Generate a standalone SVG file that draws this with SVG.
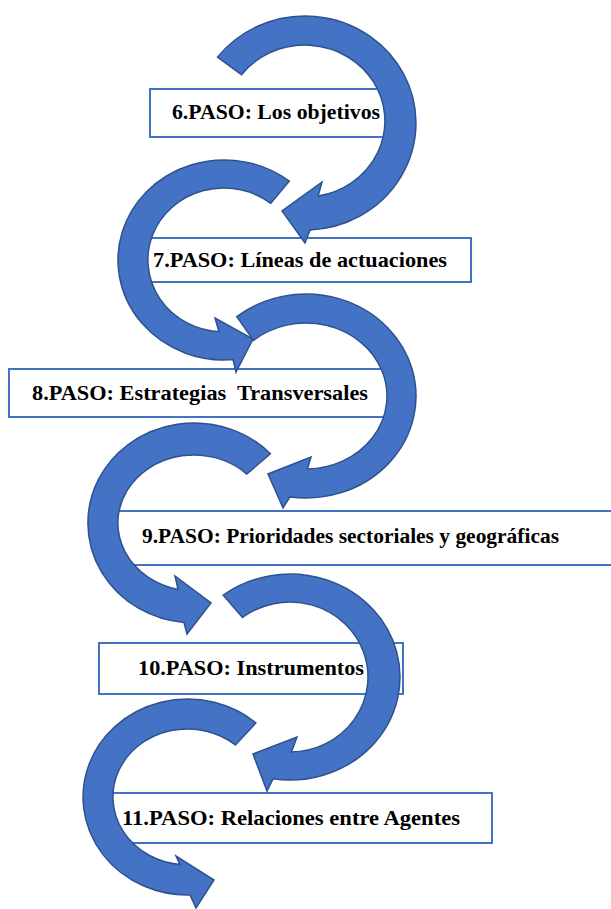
<svg xmlns="http://www.w3.org/2000/svg" width="611" height="909" viewBox="0 0 611 909">
<style>
.box{fill:#ffffff;stroke:#4472C4;stroke-width:2}
.lbl{font-family:"Liberation Serif","Times New Roman",serif;font-weight:bold;font-size:22px;fill:#000000;white-space:pre}
.arr{fill:#4472C4;stroke:#2F528F;stroke-width:1.5;stroke-linejoin:miter}
</style>
<rect x="0" y="0" width="611" height="909" fill="#ffffff"/>
<g id="paso6">
<rect class="box" x="150" y="89" width="240" height="48"/>
<text class="lbl" x="172" y="119" textLength="208" lengthAdjust="spacingAndGlyphs">6.PASO: Los objetivos</text>
</g>
<g id="paso7">
<rect class="box" x="140" y="238" width="331" height="44"/>
<text class="lbl" x="153" y="267" textLength="294" lengthAdjust="spacingAndGlyphs">7.PASO: Líneas de actuaciones</text>
</g>
<g id="paso8">
<rect class="box" x="9" y="369" width="401" height="48"/>
<text class="lbl" x="32" y="400" textLength="336" lengthAdjust="spacingAndGlyphs">8.PASO: Estrategias  Transversales</text>
</g>
<g id="paso9">
<rect class="box" x="110" y="511" width="520" height="54"/>
<text class="lbl" x="142" y="543" textLength="417" lengthAdjust="spacingAndGlyphs">9.PASO: Prioridades sectoriales y geográficas</text>
</g>
<g id="paso10">
<rect class="box" x="99" y="643" width="304" height="51"/>
<text class="lbl" x="138" y="675" textLength="226" lengthAdjust="spacingAndGlyphs">10.PASO: Instrumentos</text>
</g>
<g id="paso11">
<rect class="box" x="112" y="793" width="380" height="50"/>
<text class="lbl" x="122" y="825" textLength="338" lengthAdjust="spacingAndGlyphs">11.PASO: Relaciones entre Agentes</text>
</g>
<g id="connectors">
<path class="arr" d="M217.5,57.1 A111 107 0 1 1 310,229.9 L305,243 L282,211 L322,182 L318.1,196 A80 76 0 1 0 241.5,74.7 Z"/>
<path class="arr" d="M289.3,181.2 A106 100 0 1 0 233,359.6 L236,372 L253,339 L215,318 L219,331.8 A76 72 0 1 1 270.8,203.3 Z"/>
<path class="arr" d="M236.8,316.7 A110 102 0 1 1 290,496.9 L283,508 L268,474 L311,457 L307.4,469 A81 73 0 1 0 253.5,340.4 Z"/>
<path class="arr" d="M270.4,453.7 A106 100 0 1 0 184,622.5 L187,634 L211,603 L175,576 L178,589.4 A76 68 0 1 1 246.8,474.1 Z"/>
<path class="arr" d="M223.2,595.2 A110 103 0 1 1 273,778.8 L267,791 L253,754 L297,737 L291.4,752 A78 75 0 1 0 242.5,617.5 Z"/>
<path class="arr" d="M255.9,722.9 A104.5 98 0 1 0 190,895 L196,908 L214,880 L176,856 L180,864.6 A74.5 68 0 1 1 235.4,744.9 Z"/>
</g>
</svg>
